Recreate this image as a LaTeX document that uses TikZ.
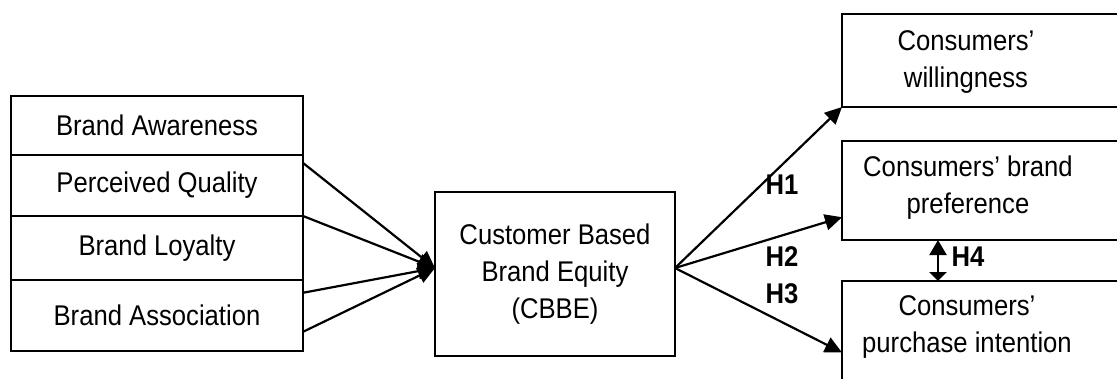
\documentclass[tikz,border=0pt]{standalone}
\usepackage{fontspec}
\setmainfont{Liberation Sans}[FakeStretch=0.9]
\usetikzlibrary{positioning,calc,arrows.meta}

\begin{document}
\begin{tikzpicture}[x=1pt,y=-1pt,
  every node/.style={font=\fontsize{28.5}{37}\selectfont},
  lbox/.style={draw, line width=2pt, outer sep=0pt, minimum width=292pt, inner sep=0pt},
  rbox/.style={draw, line width=2pt, outer sep=0pt, minimum width=300pt, inner sep=0pt, anchor=north west},
  txt/.style={align=center, inner sep=0pt},
  hyp/.style={font=\fontsize{28.5}{37}\selectfont\bfseries, inner sep=0pt},
  link/.style={line width=2.2pt, -{Triangle[length=17pt,width=16pt]}}
]
\useasboundingbox (0,0) rectangle (1117,378);
\clip (0,0) rectangle (1117,378);

% dimensions of CBBE
\node[lbox, minimum height=59pt, anchor=north west] (aw) at (11,96) {Brand Awareness};
\node[lbox, minimum height=61pt, below=0pt of aw] (pq) {Perceived Quality};
\node[lbox, minimum height=64pt, below=0pt of pq] (bl) {Brand Loyalty};
\node[lbox, minimum height=71pt, below=0pt of bl] (ba) {Brand Association};

\node[lbox, minimum width=240pt, minimum height=164pt, align=center, anchor=north west] (cbbe) at (435,192) {Customer Based\\Brand Equity\\(CBBE)};

% outcomes
\node[rbox, minimum height=93pt] (will) at (842,14) {};
\node[rbox, minimum height=99pt] (pref) at (842,141) {};
\node[rbox, minimum height=130pt] (purch) at (842,281) {};
\node[txt] (will_t) at (966,62) {Consumers'\\willingness};
\node[txt] (pref_t) at (968,188) {Consumers' brand\\preference};
\node[txt] (purch_t) at (967,327) {Consumers'\\purchase intention};

\coordinate (cin) at (435,268);
\coordinate (cout) at (675,268);
\coordinate (h4x) at (938,0);

\draw[link] ($(pq.north east)!0.13!(pq.south east)$) -- (cin);
\draw[link] (bl.north east) -- (cin);
\draw[link] ($(ba.north east)!0.18!(ba.south east)$) -- (cin);
\draw[link] ($(ba.north east)!0.73!(ba.south east)$) -- (cin);

\draw[link] (cout) -- (will.south west);
\draw[link] (cout) -- ($(pref.north west)!0.77!(pref.south west)$);
\draw[link] (cout) -- ($(purch.north west)!0.55!(purch.south west)$);
\draw[line width=2.2pt, {Triangle[length=15pt,width=17pt]}-{Triangle[length=9pt,width=17pt]}] (pref.south -| h4x) -- (purch.north -| h4x);

% hypotheses
\node[hyp] (h1) at (782,185) {H1};
\node[hyp] (h2) at (782,257) {H2};
\node[hyp] (h3) at (782,294) {H3};
\node[hyp] (h4) at (968,257) {H4};
\end{tikzpicture}
\end{document}
